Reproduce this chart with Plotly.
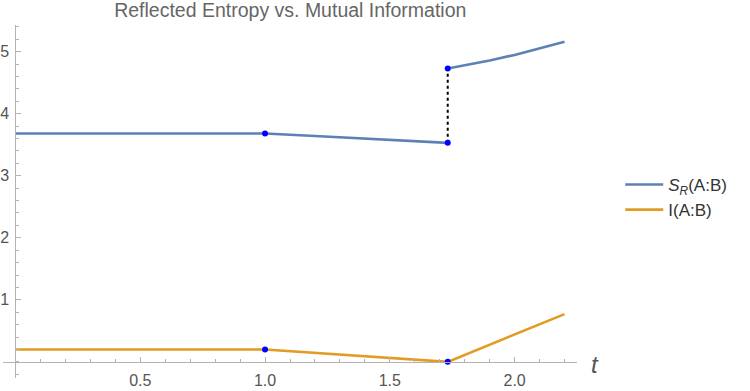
import plotly.graph_objects as go

# DATA ##########################################################################

# reflected entropy S_R(A:B), two branches with a jump at t = sqrt(3)
sr_t_low = [0.0, 1.0, 1.2, 1.4, 1.6, 1.732]
sr_low = [3.68, 3.68, 3.64, 3.60, 3.56, 3.53]
sr_t_high = [1.732, 1.8, 1.9, 2.0, 2.1, 2.2]
sr_high = [4.73, 4.778, 4.858, 4.948, 5.049, 5.16]

# mutual information I(A:B)
mi_t = [0.0, 1.0, 1.732, 2.2]
mi = [0.2, 0.2, 0.0, 0.77]

# marked points
dot_t = [1.0, 1.732, 1.732, 1.0, 1.732]
dot_v = [3.68, 3.53, 4.73, 0.2, 0.0]

x_ticks = [0.5, 1.0, 1.5, 2.0]
x_tick_labels = ["0.5", "1.0", "1.5", "2.0"]
y_ticks = [1, 2, 3, 4, 5]
y_tick_labels = ["1", "2", "3", "4", "5"]

# FIGURE ########################################################################

BLUE = "#5e81b5"
ORANGE = "#e19c24"
AXIS = "#b3b3b3"
TEXT = "#555555"

x_range = [-0.05, 2.25]
y_range = [-0.26, 5.43]

fig = go.Figure()

fig.add_trace(go.Scatter(
    x=sr_t_low + [None] + sr_t_high,
    y=sr_low + [None] + sr_high,
    mode="lines",
    line=dict(color=BLUE, width=2.6),
    name="<i>S</i><sub><i>R</i></sub>(A:B)",
    connectgaps=False,
))
fig.add_trace(go.Scatter(
    x=mi_t, y=mi,
    mode="lines",
    line=dict(color=ORANGE, width=2.6),
    name="I(A:B)",
))
# jump
fig.add_trace(go.Scatter(
    x=[sr_t_low[-1], sr_t_high[0]], y=[sr_low[-1], sr_high[0]],
    mode="lines",
    line=dict(color="black", width=2, dash="3px,3px"),
    showlegend=False,
))
fig.add_trace(go.Scatter(
    x=dot_t, y=dot_v,
    mode="markers",
    marker=dict(color="#0000ff", size=6),
    showlegend=False,
))

# axis label "t" just past the end of the x axis (paper coords, outside the range)
fig.add_annotation(
    x=1.031, y=(0 - y_range[0]) / (y_range[1] - y_range[0]) - 0.008,
    xref="paper", yref="paper",
    text="<i>t</i>", showarrow=False,
    font=dict(size=24, color=TEXT, family="Liberation Sans"),
    xanchor="center", yanchor="middle",
)

fig.update_layout(
    width=750, height=391,
    margin=dict(l=2.5, r=172.5, t=25, b=13),
    paper_bgcolor="white",
    plot_bgcolor="white",
    font=dict(family="Liberation Sans", color=TEXT),
    title=dict(
        text="Reflected Entropy vs. Mutual Information",
        x=0.387, xanchor="center", y=0.975, yanchor="middle",
        font=dict(size=19.5, color="#666666"),
    ),
    showlegend=True,
    legend=dict(
        xref="container", yref="container",
        x=0.827, y=0.573, xanchor="left", yanchor="top",
        font=dict(size=17, color="#333333"),
        tracegroupgap=0, itemwidth=38,
        bgcolor="rgba(0,0,0,0)",
    ),
    xaxis=dict(
        range=x_range, showgrid=False, zeroline=False,
        anchor="free", position=(0 - y_range[0]) / (y_range[1] - y_range[0]),
        showline=True, linecolor=AXIS, linewidth=1,
        ticks="inside", ticklen=5, tickcolor=AXIS,
        tickvals=x_ticks, ticktext=x_tick_labels,
        tickfont=dict(size=16, color=TEXT), ticklabelstandoff=4,
        minor=dict(ticks="inside", ticklen=3, tickcolor=AXIS, dtick=0.1, tick0=0),
        automargin=False,
    ),
    yaxis=dict(
        range=y_range, showgrid=False, zeroline=False,
        anchor="free", position=(0 - x_range[0]) / (x_range[1] - x_range[0]),
        showline=True, linecolor=AXIS, linewidth=1,
        ticks="inside", ticklen=5, tickcolor=AXIS,
        tickvals=y_ticks, ticktext=y_tick_labels,
        tickfont=dict(size=16, color=TEXT), ticklabelstandoff=3,
        minor=dict(ticks="inside", ticklen=3, tickcolor=AXIS, dtick=0.2, tick0=0),
        automargin=False,
    ),
)

fig.write_html(
    "out.html",
    config={"displayModeBar": False},
    post_script="document.body.style.margin='0';",
)
